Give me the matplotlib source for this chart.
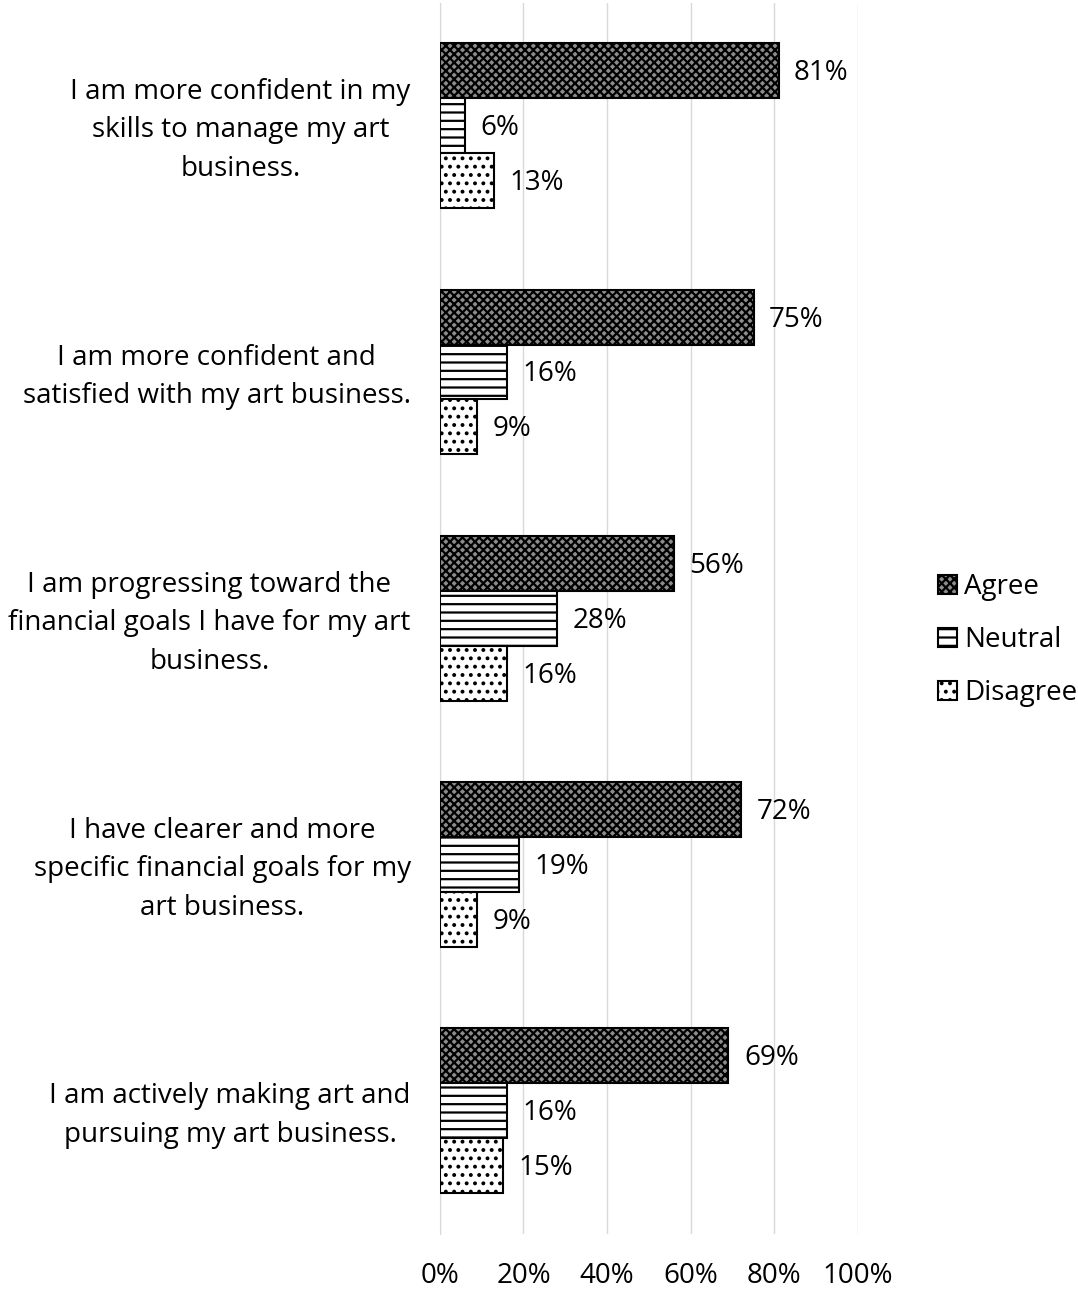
import numpy as np
import matplotlib.pyplot as plt
import matplotlib.transforms as mtransforms

plt.rcParams['font.family'] = ['Open Sans', 'DejaVu Sans']
plt.rcParams['hatch.linewidth'] = 1.6

statements = [
    'I am more confident in my\nskills to manage my art\nbusiness.',
    'I am more confident and\nsatisfied with my art business.',
    'I am progressing toward the\nfinancial goals I have for my art\nbusiness.',
    'I have clearer and more\nspecific financial goals for my\nart business.',
    'I am actively making art and\npursuing my art business.',
]
agree = [81, 75, 56, 72, 69]
neutral = [6, 16, 28, 19, 16]
disagree = [13, 9, 16, 9, 15]

series = [
    ('Agree', agree, 'xxxx', '#8c8c8c'),
    ('Neutral', neutral, '--', 'white'),
    ('Disagree', disagree, '..', 'white'),
]

fig = plt.figure(figsize=(10.78, 12.9), dpi=100)
ax = fig.add_axes([0.408, 0.0434, 0.388, 0.9546])

h = 0.223
y = np.arange(len(statements))
for i, (name, vals, hatch, fc) in enumerate(series):
    pos = y + (i - 1) * h
    ax.barh(pos, vals, height=h, color=fc, edgecolor='black',
            hatch=hatch, linewidth=1.5, label=name, zorder=3)
    for p, v in zip(pos, vals):
        ax.text(v + 3.7, p + 0.01, f'{v}%', va='center', ha='left', fontsize=20)

ax.set_xlim(0, 100)
ax.set_ylim(len(statements) - 0.5, -0.5)
ax.set_xticks(range(0, 101, 20))
ax.set_xticklabels([f'{t}%' for t in range(0, 101, 20)], fontsize=20)
ax.set_yticks(y)
ax.set_yticklabels(statements, fontsize=20, ha='right', multialignment='center',
                   linespacing=1.5)
ax.tick_params(axis='y', length=0, pad=21)
ax.tick_params(axis='x', length=0, pad=20)

# nudge the statement labels up a little
shift = mtransforms.ScaledTranslation(0, 4 / 100, fig.dpi_scale_trans)
for lbl in ax.get_yticklabels():
    lbl.set_transform(lbl.get_transform() + shift)

ax.grid(axis='x', color='#d9d9d9', linewidth=1, zorder=0)
for s in ['top', 'right', 'bottom']:
    ax.spines[s].set_visible(False)
ax.spines['left'].set_color('#d9d9d9')

ax.legend(loc='center left', bbox_to_anchor=(1.19, 0.482), frameon=False,
          fontsize=20, handlelength=0.7, handleheight=0.7, handletextpad=0.25,
          labelspacing=0.9, borderpad=0, borderaxespad=0)

fig.savefig('out.png')
